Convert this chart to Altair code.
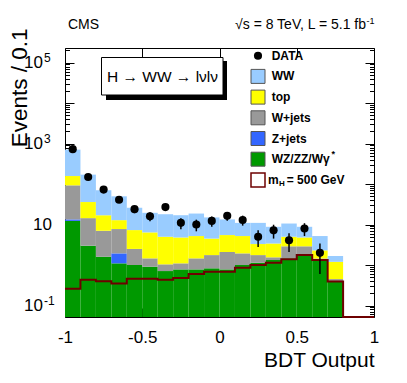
import altair as alt
import pandas as pd

F = "Liberation Sans"

# ---------------- data ----------------
bin_lo = [-1.0, -0.9, -0.8, -0.7, -0.6, -0.5, -0.4, -0.3, -0.2, -0.1,
          0.0, 0.1, 0.2, 0.3, 0.4, 0.5, 0.6, 0.7, 0.8, 0.9]
bin_hi = [-0.9, -0.8, -0.7, -0.6, -0.5, -0.4, -0.3, -0.2, -0.1, 0.0,
          0.1, 0.2, 0.3, 0.4, 0.5, 0.6, 0.7, 0.8, 0.9, 1.0]

wz    = [12.3, 3.0, 1.6, 1.1, 1.0, 0.91, 0.71, 0.78, 0.78, 0.83,
         0.78, 1.0, 1.14, 1.33, 1.46, 1.87, 1.33, 0.39, 0, 0]
zjets = [1.1, 0, 0, 0.84, 0, 0, 0, 0, 0, 0,
         0, 0, 0, 0, 0, 0, 0, 0, 0, 0]
wjets = [79.6, 11.4, 5.4, 5.8, 1.5, 0.55, 0.33, 0.32, 0.68, 0.93,
         1.32, 0.94, 0.62, 0.22, 1.44, 1.03, 0.12, 0.06, 0, 0]
top   = [65, 21.6, 10, 5.1, 4.8, 4.94, 3.96, 3.7, 3.74, 2.74,
         3.4, 3.26, 1.54, 1.85, 2.1, 1.9, 0.85, 0.75, 0, 0]
ww    = [551, 135, 53, 37, 18.7, 13.1, 13, 12.2, 13.5, 10.5,
         7.9, 5.8, 7.7, 5.4, 5.6, 4.0, 2.9, 0.47, 0, 0]
signal = [0.26, 0.43, 0.40, 0.35, 0.46, 0.46, 0.43, 0.48, 0.6, 0.68,
          0.68, 0.86, 1.0, 1.14, 1.38, 1.76, 1.33, 0.39, 0, 0]

data_x   = [-0.95, -0.85, -0.75, -0.65, -0.55, -0.45, -0.35, -0.25, -0.15, -0.05,
            0.05, 0.15, 0.25, 0.35, 0.45, 0.55, 0.65]
data_y   = [730, 150, 73, 41, 24, 16, 27, 11, 10, 12.3,
            16.4, 13, 5, 7.2, 4.1, 8, 2]
data_err = [27, 12.2, 8.5, 6.4, 4.9, 4.0, 5.2, 3.3, 3.2, 3.5,
            4.0, 3.6, 2.2, 2.7, 2.0, 2.8, 1.4]

ylab_vals = [1e5, 1e3, 10, 0.1]
ylab_exp = ["5", "3", "", "-1"]
xtick_vals = [-1, -0.5, 0, 0.5, 1]

procs = ["WZ/ZZ/Wγ", "Z+jets", "W+jets", "top", "WW"]
proc_colors = ["#009900", "#3366ff", "#999999", "#ffff00", "#99ccff"]
SIG = "m_H = 500 GeV"
SIG_COLOR = "#6e0000"

leg_keys = ["WW", "top", "W+jets", "Z+jets", "WZ/ZZ/Wγ", SIG]
leg_text = ["DATA", "WW", "top", "W+jets", "Z+jets", "WZ/ZZ/Wγ"]

Y_MIN, Y_MAX = 0.052, 2.3e5
W, H = 309, 269

# ---------------- tables ----------------
comp = dict(zip(procs, [wz, zjets, wjets, top, ww]))
rows = []
for i in range(len(bin_lo)):
    cum = 0.0
    for p in procs:
        v = comp[p][i]
        if v <= 0:
            continue
        lo = cum if cum > 0 else Y_MIN
        cum += v
        rows.append({"x0": bin_lo[i], "x1": bin_hi[i], "y0": lo, "y1": cum, "proc": p})
stack_df = pd.DataFrame(rows)

sig_df = pd.DataFrame({
    "x": bin_lo + [bin_hi[-1]],
    "y": [max(v, Y_MIN) for v in signal] + [max(signal[-1], Y_MIN)],
})

dat_df = pd.DataFrame({"x": data_x, "y": data_y, "e": data_err})
dat_df["lo"] = dat_df["y"] - dat_df["e"]
dat_df["hi"] = dat_df["y"] + dat_df["e"]

ylab_df = pd.DataFrame({"v": ylab_vals, "ex": ylab_exp})

leg_sq_df = pd.DataFrame({"key": leg_keys, "row": list(range(1, len(leg_keys) + 1))})
leg_tx_df = pd.DataFrame({"t": leg_text, "row": list(range(len(leg_text)))})
one = pd.DataFrame({"a": [0]})

decades = [0.1, 1, 10, 100, 1e3, 1e4, 1e5]
minors = [m * 10 ** e for e in range(-2, 6) for m in range(2, 10)
          if Y_MIN <= m * 10 ** e <= Y_MAX]

XS = alt.Scale(domain=[-1, 1], nice=False, zero=False)
YS = alt.Scale(type="log", domain=[Y_MIN, Y_MAX], nice=False)
FILL = alt.Scale(domain=procs + [SIG], range=proc_colors + ["#ffffff"])

common = dict(domain=False, grid=False, tickColor="black", tickWidth=1)

ax_bottom = alt.Axis(orient="bottom", values=xtick_vals, labelExpr="toString(datum.value)",
                     offset=-9, tickSize=9, labelPadding=12, labelFontSize=17, labelFont=F,
                     labelColor="black", labelFlush=False, labelOverlap=False,
                     title="BDT Output", titleFont=F, titleFontSize=21, titleFontWeight="normal",
                     titleColor="black", titleAlign="right", titleBaseline="alphabetic",
                     titleX=W, titleY=58, **common)
ax_top = alt.Axis(orient="top", values=xtick_vals, labels=False, offset=-9, tickSize=9,
                  title=None, **common)
ax_left = alt.Axis(orient="left", values=decades, labels=False, offset=-9, tickSize=9,
                   title="Events / 0.1", titleFont=F, titleFontSize=22.5, titleFontWeight="normal",
                   titleColor="black", titleAngle=270, titleAlign="right",
                   titleBaseline="alphabetic", titleX=-48, titleY=-20, **common)
ax_left_minor = alt.Axis(orient="left", values=minors, labels=False, offset=-4.5,
                         tickSize=4.5, title=None, **common)
ax_right = alt.Axis(orient="right", values=decades, labels=False, offset=-9, tickSize=9,
                    title=None, **common)
ax_right_minor = alt.Axis(orient="right", values=minors, labels=False, offset=-4.5,
                          tickSize=4.5, title=None, **common)

bars = alt.Chart(stack_df).mark_rect(strokeWidth=0).encode(
    x=alt.X("x0:Q", scale=XS, axis=ax_bottom),
    x2="x1",
    y=alt.Y("y0:Q", scale=YS, axis=ax_left),
    y2="y1",
    fill=alt.Fill("proc:N", scale=FILL, legend=None),
)

sig_line = alt.Chart(sig_df).mark_line(interpolate="step-after", color=SIG_COLOR,
                                       strokeWidth=2).encode(
    x=alt.X("x:Q", scale=XS, axis=ax_top),
    y=alt.Y("y:Q", scale=YS, axis=ax_right),
)

err = alt.Chart(dat_df).mark_rule(color="black", strokeWidth=1.5).encode(
    x=alt.X("x:Q", scale=XS, axis=None),
    y=alt.Y("lo:Q", scale=YS, axis=ax_right_minor),
    y2="hi",
)

pts = alt.Chart(dat_df).mark_circle(color="black", opacity=1, size=66).encode(
    x=alt.X("x:Q", scale=XS, axis=None),
    y=alt.Y("y:Q", scale=YS, axis=ax_left_minor),
)

# y tick labels (10 with superscript exponent)
ylab_base = alt.Chart(ylab_df).transform_filter("datum.ex != ''").mark_text(
    font=F, fontSize=17, align="right", baseline="middle", color="black").encode(
    x=alt.value(-22), y=alt.Y("v:Q", scale=YS, axis=None), text=alt.value("10"))
ylab_exp_l = alt.Chart(ylab_df).transform_filter("datum.ex != ''").mark_text(
    font=F, fontSize=12, align="left", baseline="middle", color="black", dy=-5).encode(
    x=alt.value(-21), y=alt.Y("v:Q", scale=YS, axis=None), text="ex:N")
ylab_plain = alt.Chart(ylab_df).transform_filter("datum.ex == ''").mark_text(
    font=F, fontSize=17, align="right", baseline="middle", color="black").encode(
    x=alt.value(-13), y=alt.Y("v:Q", scale=YS, axis=None), text=alt.value("10"))

# header texts
cms = alt.Chart(one).mark_text(font=F, fontSize=14, align="left", baseline="alphabetic",
                               color="black").encode(
    x=alt.value(3), y=alt.value(-19), text=alt.value("CMS"))
lumi = alt.Chart(one).mark_text(font=F, fontSize=14, align="right", baseline="alphabetic",
                                color="black").encode(
    x=alt.value(301), y=alt.value(-19), text=alt.value("√s = 8 TeV, L = 5.1 fb"))
lumi_exp = alt.Chart(one).mark_text(font=F, fontSize=9, align="left", baseline="alphabetic",
                                    color="black").encode(
    x=alt.value(301.5), y=alt.value(-24), text=alt.value("-1"))

# H -> WW box
shadow = alt.Chart(one).mark_rect(color="black").encode(
    x=alt.value(41), x2=alt.value(162), y=alt.value(13), y2=alt.value(52))
box = alt.Chart(one).mark_rect(fill="white", stroke="black", strokeWidth=1).encode(
    x=alt.value(36.5), x2=alt.value(158), y=alt.value(9.5), y2=alt.value(47))
box_t = alt.Chart(one).mark_text(font=F, fontSize=15.5, align="center", baseline="middle",
                                 color="black").encode(
    x=alt.value(97.5), y=alt.value(28.5), text=alt.value("H → WW → lνlν"))

# legend
leg_sq = alt.Chart(leg_sq_df).transform_calculate(ly="7.7 + 20.7*datum.row").mark_square(
    size=196, filled=True, opacity=1).encode(
    x=alt.value(193),
    y=alt.Y("ly:Q", scale=None, axis=None),
    fill=alt.Fill("key:N", scale=FILL, legend=None),
    stroke=alt.condition(f"datum.key == '{SIG}'", alt.value(SIG_COLOR), alt.value("#555555")),
    strokeWidth=alt.condition(f"datum.key == '{SIG}'", alt.value(1.5), alt.value(1)),
)
leg_dot = alt.Chart(one).mark_circle(color="black", opacity=1, size=66).encode(
    x=alt.value(193), y=alt.value(7.7))
leg_tx = alt.Chart(leg_tx_df).transform_calculate(ly="7.7 + 20.7*datum.row").mark_text(
    font=F, fontSize=12, fontWeight="bold", align="left", baseline="middle",
    color="black").encode(
    x=alt.value(206.7), y=alt.Y("ly:Q", scale=None, axis=None), text="t:N")
leg_star = alt.Chart(one).mark_text(font=F, fontSize=9, fontWeight="bold", align="left",
                                    baseline="middle", color="black").encode(
    x=alt.value(266.5), y=alt.value(106), text=alt.value("*"))
leg_m = alt.Chart(one).mark_text(font=F, fontSize=12, fontWeight="bold", align="left",
                                 baseline="middle", color="black").encode(
    x=alt.value(203), y=alt.value(131.9), text=alt.value("m"))
leg_h = alt.Chart(one).mark_text(font=F, fontSize=8, fontWeight="bold", align="left",
                                 baseline="middle", color="black").encode(
    x=alt.value(214), y=alt.value(135.5), text=alt.value("H"))
leg_eq = alt.Chart(one).mark_text(font=F, fontSize=12, fontWeight="bold", align="left",
                                  baseline="middle", color="black").encode(
    x=alt.value(221.7), y=alt.value(131.9), text=alt.value("= 500 GeV"))

chart = alt.layer(
    bars, sig_line, err, pts,
    ylab_base, ylab_exp_l, ylab_plain,
    cms, lumi, lumi_exp,
    shadow, box, box_t,
    leg_sq, leg_dot, leg_tx, leg_star, leg_m, leg_h, leg_eq,
).resolve_axis(x="independent", y="independent").properties(
    width=W, height=H, autosize="none",
    padding={"left": 57, "top": 40, "right": 25, "bottom": 58},
    background="white",
).configure_view(stroke="black", strokeWidth=1)

chart.save("out.html", embed_options={"renderer": "svg", "actions": False})
